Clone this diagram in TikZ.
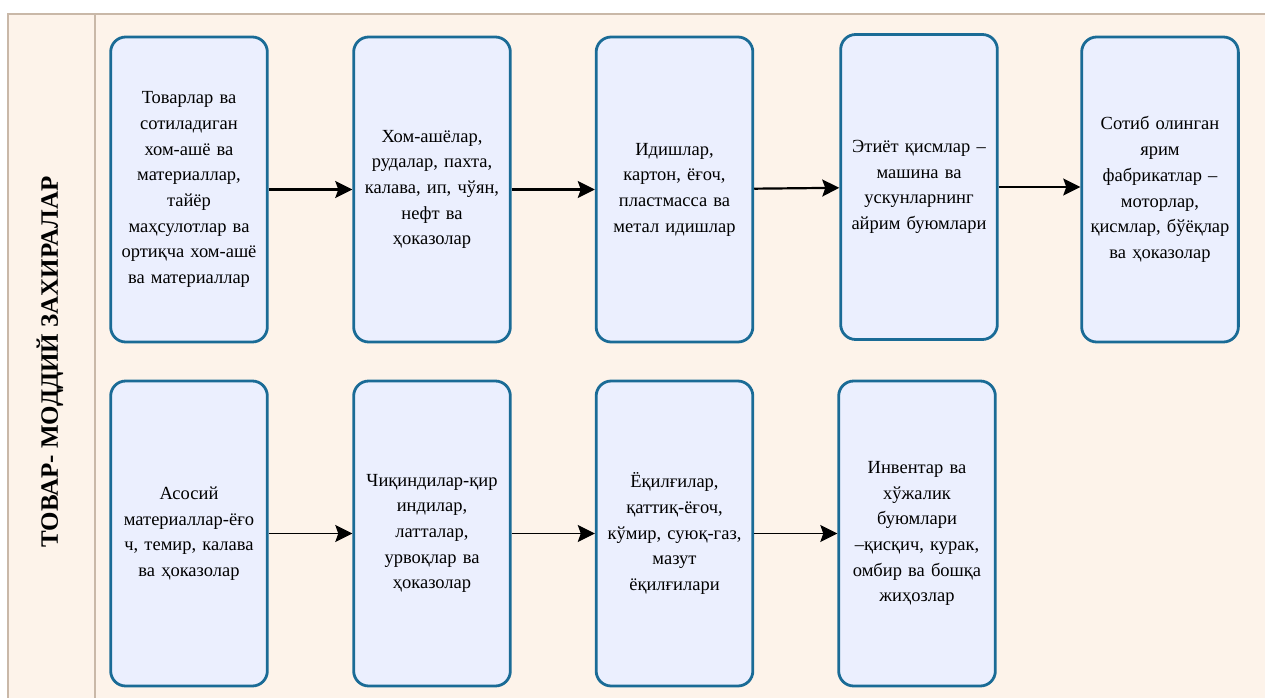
\documentclass[tikz,border=0pt]{standalone}
\usepackage{fontspec}
\setmainfont{Liberation Serif}
\usetikzlibrary{arrows.meta}

\definecolor{bgcream}{HTML}{FDF3EA}
\definecolor{framegray}{HTML}{C9B8A8}
\definecolor{boxfill}{HTML}{EBEFFE}
\definecolor{boxline}{HTML}{1A6B96}

\begin{document}
\begin{tikzpicture}[x=1pt,y=-1pt,
  stockbox/.style={draw=boxline, line width=2.8pt, fill=boxfill, rounded corners=15pt,
    minimum width=156pt, minimum height=305pt, text width=150pt, align=center,
    font=\fontsize{18.5pt}{25.7pt}\selectfont},
  flow/.style={-{Stealth[length=17pt,width=17pt,inset=3pt]}}]

\useasboundingbox (0,0) rectangle (1265,698);
\fill[white] (0,0) rectangle (1265,698);
\fill[bgcream] (8,14) rectangle (1265,698);
\draw[framegray, line width=1.5pt] (8,698) -- (8,14) -- (1265,14);
\draw[framegray, line width=1.5pt] (95,14) -- (95,698);

\node[rotate=90, font=\fontsize{25pt}{29pt}\selectfont\bfseries] (v0) at (50,362) {ТОВАР- МОДДИЙ ЗАХИРАЛАР};

% top row
\node[stockbox] (v1) at (189,189.5) {Товарлар ва\\ сотиладиган\\ хом-ашё ва\\ материаллар,\\ тайёр\\ маҳсулотлар ва\\ ортиқча хом-ашё\\ ва материаллар};
\node[stockbox] (v2) at (432,189.5) {Хом-ашёлар,\\ рудалар, пахта,\\ калава, ип, чўян,\\ нефт ва\\ ҳоказолар};
\node[stockbox] (v3) at (674.5,189.5) {Идишлар,\\ картон, ёғоч,\\ пластмасса ва\\ метал идишлар};
\node[stockbox] (v4) at (919,187) {Этиёт қисмлар –\\ машина ва\\ ускунларнинг\\ айрим буюмлари};
\node[stockbox] (v5) at (1160,189.5) {Сотиб олинган\\ ярим\\ фабрикатлар –\\ моторлар,\\ қисмлар, бўёқлар\\ ва ҳоказолар};

% bottom row
\node[stockbox] (v6) at (189,533.5) {Асосий\\ материаллар-ёғо\\ ч, темир, калава\\ ва ҳоказолар};
\node[stockbox] (v7) at (432,533.5) {Чиқиндилар-қир\\ индилар,\\ латталар,\\ урвоқлар ва\\ ҳоказолар};
\node[stockbox] (v8) at (674.5,533.5) {Ёқилғилар,\\ қаттиқ-ёғоч,\\ кўмир, суюқ-газ,\\ мазут\\ ёқилғилари};
\node[stockbox] (v9) at (917,533.5) {Инвентар ва\\ хўжалик\\ буюмлари\\ –қисқич, курак,\\ омбир ва бошқа\\ жиҳозлар};

\draw [flow, line width=2.2pt] (v1) edge (v2);
\draw [flow, line width=2.2pt] (v2) edge (v3);
\draw [flow, line width=2.2pt] (v3) edge (v4);
\draw [flow, line width=2.2pt] (v4.east) -- (v4.east -| v5.west);
\draw [flow, line width=1pt] (v6) edge (v7);
\draw [flow, line width=1pt] (v7) edge (v8);
\draw [flow, line width=1pt] (v8) edge (v9);
\end{tikzpicture}
\end{document}
